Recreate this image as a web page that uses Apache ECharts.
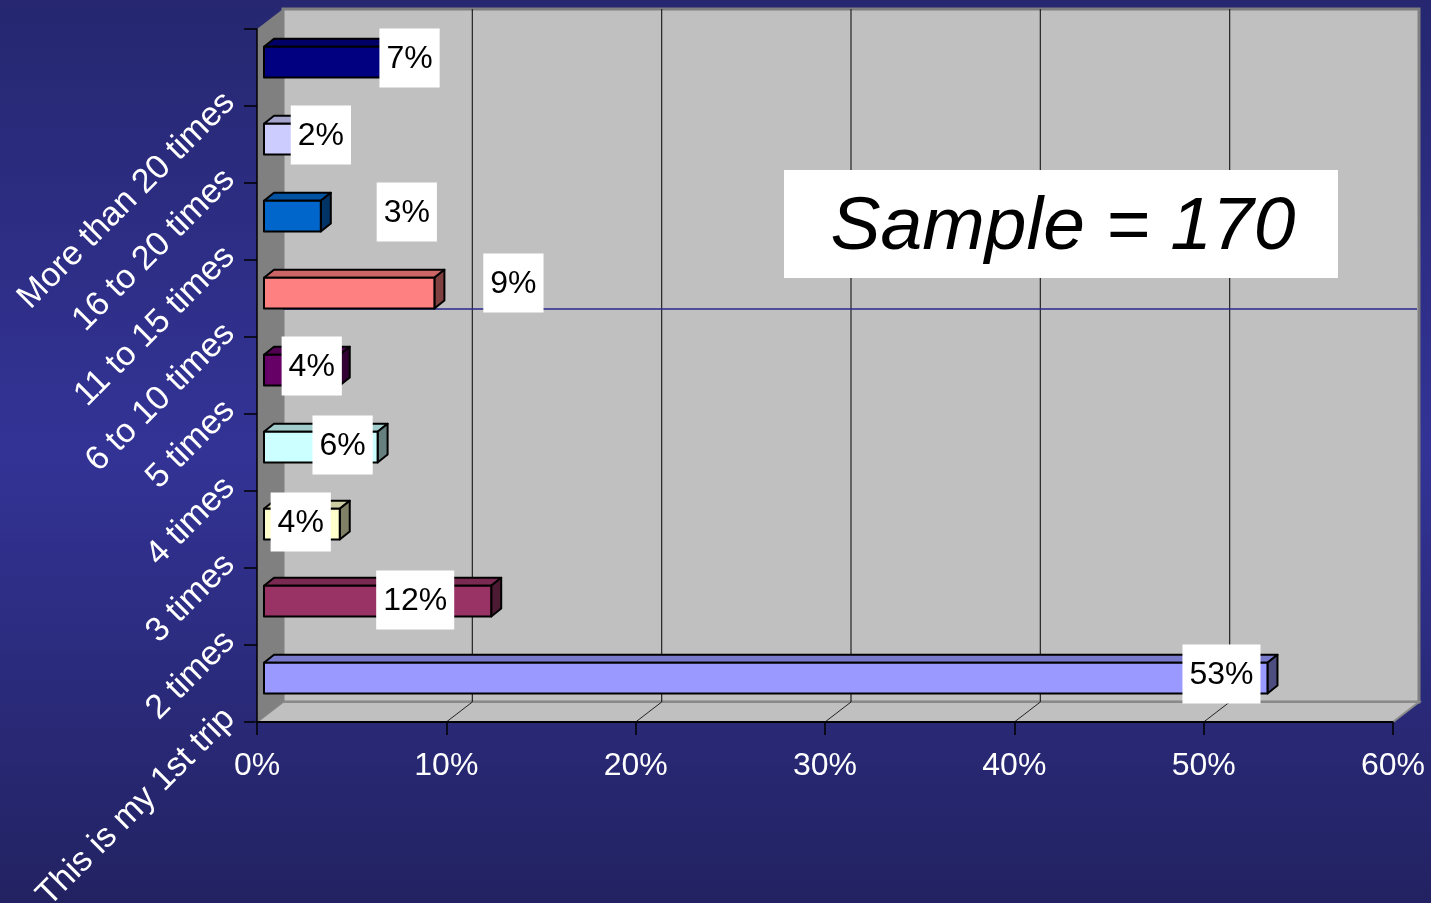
<!DOCTYPE html>
<html>
<head>
<meta charset="utf-8">
<title>Number of trips</title>
<script src="https://cdn.jsdelivr.net/npm/echarts@6/dist/echarts.min.js"></script>
<style>
  html, body { margin: 0; padding: 0; overflow: hidden; background: #262770; }
  #chart { width: 1431px; height: 903px; }
</style>
</head>
<body>
<div id="chart"></div>
<script>
// Categories, bottom to top
const categories = [
  'This is my 1st trip', '2 times', '3 times', '4 times', '5 times',
  '6 to 10 times', '11 to 15 times', '16 to 20 times', 'More than 20 times'
];
// Share of respondents (%)
const shares = [53, 12, 4, 6, 4, 9, 3, 2, 7];
// Value axis ticks (%)
const xTickMax = 60;
const xTickStep = 10;
const sampleText = 'Sample = 170';

// Bar front colours; top and side faces are shaded from these
const barColors = ['#9999FF', '#993366', '#FFFFCC', '#CCFFFF', '#660066',
                   '#FF8080', '#0066CC', '#CCCCFF', '#000080'];
// Label placement relative to each bar's end (px)
const labelDx = [-46, -76, -39, -35, -28, 79, 86, 19, 13];
const labelDy = [-4, -1, -2, -2, -4, -10, -4, -4, -4];

const FONT = "'Liberation Sans', Arial, Helvetica, sans-serif";
const DEPTH = [26, -20];      // wall depth offset
const BAR_OFF = [7, -5.4];    // bar front plane offset
const BAR_DEPTH = [10, -8];   // bar thickness
const BAR_HALF = 0.2;         // half bar height as fraction of band
const LABEL_FS = 32;

function shade(hex, k) {
  const n = parseInt(hex.slice(1), 16);
  const r = Math.round(((n >> 16) & 255) * k);
  const g = Math.round(((n >> 8) & 255) * k);
  const b = Math.round((n & 255) * k);
  return 'rgb(' + r + ',' + g + ',' + b + ')';
}

const chart = echarts.init(document.getElementById('chart'), null, { renderer: 'canvas', width: 1431, height: 903 });

function renderWalls(params, api) {
  const o = api.coord([0, 0]);
  const t = api.coord([xTickMax, categories.length]);
  const x0 = o[0], yB = o[1], x1 = t[0], yT = t[1];
  const dx = DEPTH[0], dy = DEPTH[1];
  const children = [];
  // back wall
  children.push({ type: 'rect', shape: { x: x0 + dx, y: yT + dy, width: x1 - x0, height: yB - yT },
    style: { fill: '#C0C0C0', stroke: '#808080', lineWidth: 3 } });
  // floor
  children.push({ type: 'polygon', shape: { points: [[x0, yB], [x0 + dx, yB + dy], [x1 + dx, yB + dy], [x1, yB]] },
    style: { fill: '#C0C0C0', stroke: '#8a8a8a', lineWidth: 2 } });
  // left wall
  children.push({ type: 'polygon', shape: { points: [[x0, yB], [x0, yT], [x0 + dx, yT + dy], [x0 + dx, yB + dy]] },
    style: { fill: '#808080' } });
  // gridlines on back wall and floor
  for (let v = xTickStep; v < xTickMax; v += xTickStep) {
    const p = api.coord([v, 0]);
    children.push({ type: 'line', shape: { x1: p[0] + dx, y1: yT + dy, x2: p[0] + dx, y2: yB + dy },
      style: { stroke: '#222222', lineWidth: 1.2 } });
    children.push({ type: 'line', shape: { x1: p[0], y1: yB, x2: p[0] + dx, y2: yB + dy },
      style: { stroke: '#222222', lineWidth: 1 } });
  }
  // floor front edge
  children.push({ type: 'line', shape: { x1: x0, y1: yB, x2: x1, y2: yB }, style: { stroke: '#000', lineWidth: 2 } });
  return { type: 'group', children: children };
}

function renderBar(params, api) {
  const v = api.value(0);
  const idx = api.value(1);
  const band = api.size([0, 1])[1];
  const a = api.coord([0, idx + 0.5]);
  const b = api.coord([v, idx + 0.5]);
  const h = band * BAR_HALF;
  const fx0 = a[0] + BAR_OFF[0], fx1 = b[0] + BAR_OFF[0];
  const cy = a[1] + BAR_OFF[1];
  const fy0 = cy - h, fy1 = cy + h;
  const ddx = BAR_DEPTH[0], ddy = BAR_DEPTH[1];
  const col = barColors[idx];
  const stroke = { stroke: '#000', lineWidth: 2, lineJoin: 'round' };
  return {
    type: 'group',
    children: [
      { type: 'polygon', shape: { points: [[fx0, fy0], [fx0 + ddx, fy0 + ddy], [fx1 + ddx, fy0 + ddy], [fx1, fy0]] },
        style: Object.assign({ fill: shade(col, 0.8) }, stroke) },
      { type: 'polygon', shape: { points: [[fx1, fy0], [fx1 + ddx, fy0 + ddy], [fx1 + ddx, fy1 + ddy], [fx1, fy1]] },
        style: Object.assign({ fill: shade(col, 0.5) }, stroke) },
      { type: 'rect', shape: { x: fx0, y: fy0, width: fx1 - fx0, height: fy1 - fy0 },
        style: Object.assign({ fill: col }, stroke) }
    ]
  };
}

function renderLabel(params, api) {
  const v = api.value(0);
  const idx = api.value(1);
  const b = api.coord([v, idx + 0.5]);
  const txt = v + '%';
  const cx = b[0] + BAR_OFF[0] + labelDx[idx];
  const cy = b[1] + BAR_OFF[1] + labelDy[idx];
  const digits = String(v).length;
  const w = 14 + LABEL_FS * (0.556 * digits + 0.889);
  const hgt = 59;
  return {
    type: 'group',
    children: [
      { type: 'rect', z2: 10, shape: { x: cx - w / 2, y: cy - hgt / 2, width: w, height: hgt },
        style: { fill: '#FFFFFF' } },
      { type: 'text', z2: 11, style: { text: txt, x: cx, y: cy + 1, align: 'center', verticalAlign: 'middle',
          fill: '#000', font: LABEL_FS + 'px ' + FONT } }
    ]
  };
}

const barData = shares.map((s, i) => [s, i]);

chart.setOption({
  animation: false,
  backgroundColor: new echarts.graphic.LinearGradient(0, 0, 0, 1, [
    { offset: 0, color: '#262770' },
    { offset: 0.5, color: '#333396' },
    { offset: 1, color: '#222262' }
  ]),
  grid: { left: 257, top: 29, width: 1136, height: 693, containLabel: false, outerBoundsMode: 'none' },
  xAxis: {
    type: 'value', min: 0, max: xTickMax, interval: xTickStep, z: 5,
    axisLine: { show: true, lineStyle: { color: '#000', width: 1.5 } },
    axisTick: { show: true, length: 13, lineStyle: { color: '#000', width: 1.5 } },
    splitLine: { show: false },
    axisLabel: { color: '#fff', fontSize: 32, fontFamily: FONT, margin: 28, formatter: '{value}%' }
  },
  yAxis: {
    type: 'value', min: 0, max: categories.length, interval: 1, z: 5,
    axisLine: { show: true, lineStyle: { color: '#000', width: 1.5 } },
    axisTick: { show: true, length: 13, lineStyle: { color: '#000', width: 1.5 } },
    splitLine: { show: false },
    axisLabel: {
      color: '#fff', fontSize: 34, fontFamily: FONT, rotate: 45, margin: 19,
      // a short blank second line lifts each name off its tick
      formatter: (val) => categories[val] ? '{a|' + categories[val] + '}\n{b| }' : '',
      rich: {
        a: { color: '#fff', fontSize: 34, fontFamily: FONT, lineHeight: 38 },
        b: { fontSize: 10, lineHeight: 24 }
      }
    }
  },
  graphic: [
    // stray rule across the back wall
    { type: 'line', z: 1, shape: { x1: 283, y1: 309, x2: 1417, y2: 309 },
      style: { stroke: '#2a2a8c', lineWidth: 1.5 } },
    { type: 'rect', z: 20, shape: { x: 784, y: 170, width: 554, height: 108 }, style: { fill: '#fff' } },
    { type: 'text', z: 21, x: 1063, y: 228,
      style: { text: sampleText, align: 'center', verticalAlign: 'middle',
               font: 'italic 75px ' + FONT, fill: '#000' } }
  ],
  series: [
    { type: 'custom', z: 0, silent: true, renderItem: renderWalls, data: [[0, 0]] },
    { type: 'custom', z: 3, renderItem: renderBar, data: barData, encode: { x: 0, y: 1 } },
    { type: 'custom', z: 10, renderItem: renderLabel, data: barData, encode: { x: 0, y: 1 } }
  ]
});
</script>
</body>
</html>
